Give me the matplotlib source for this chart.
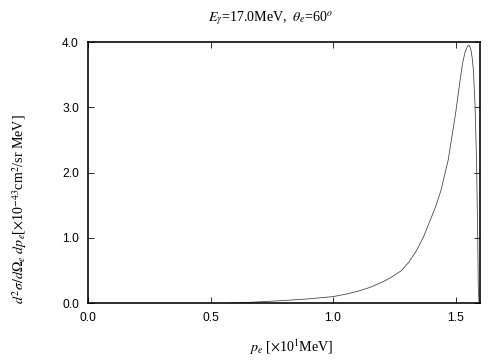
import numpy as np
import matplotlib
matplotlib.use('Agg')
import matplotlib.pyplot as plt

# curve
p_e = [0.58, 0.65, 0.70, 0.80, 0.90, 1.00, 1.05, 1.10, 1.15, 1.20, 1.24, 1.28,
       1.31, 1.34, 1.37, 1.40, 1.42, 1.44, 1.47, 1.50, 1.52, 1.53, 1.54, 1.55,
       1.556, 1.562, 1.568, 1.573, 1.58, 1.586, 1.59, 1.593, 1.596]
xsec = [0.0, 0.01, 0.02, 0.04, 0.065, 0.10, 0.135, 0.18, 0.24, 0.32, 0.40, 0.50,
        0.63, 0.80, 1.02, 1.30, 1.49, 1.72, 2.19, 2.90, 3.45, 3.70, 3.86, 3.94,
        3.95, 3.90, 3.76, 3.57, 3.00, 2.15, 1.20, 0.25, 0.0]

xticks = [0.0, 0.5, 1.0, 1.5]
yticks = [0.0, 1.0, 2.0, 3.0, 4.0]

plt.rcParams['mathtext.fontset'] = 'stix'
plt.rcParams['font.family'] = 'Liberation Sans'

fig = plt.figure(figsize=(7, 5), dpi=72)
ax = fig.add_axes([0.1746, 0.158, 0.7778, 0.725])
ax.plot(p_e, xsec, color='#444444', lw=0.8)

ax.set_xlim(0, 1.6)
ax.set_ylim(0, 4.0)
ax.set_xticks(xticks)
ax.set_yticks(yticks)
ax.set_xticklabels(['%.1f' % v for v in xticks])
ax.set_yticklabels(['%.1f' % v for v in yticks])
ax.tick_params(direction='in', top=True, right=True, length=6, width=0.8,
               labelsize=12, pad=9)
for s in ax.spines.values():
    s.set_linewidth(1.6)

serif = 'Liberation Serif'
fig.text(0.536, 0.95, r'$E_\gamma$=17.0MeV,  $\theta_e$=60$^o$',
         ha='center', va='center', fontsize=14, family=serif)
fig.text(0.577, 0.035, r'$p_e$ [$\times$10$^1$MeV]',
         ha='center', va='center', fontsize=14, family=serif)
fig.text(0.038, 0.42,
         r'$d^2\sigma/d\Omega_e\ dp_e$[$\times$10$^{-43}$cm$^2$/sr MeV]',
         ha='center', va='center', rotation=90, fontsize=14, family=serif)

fig.savefig('out.png', dpi=72)
